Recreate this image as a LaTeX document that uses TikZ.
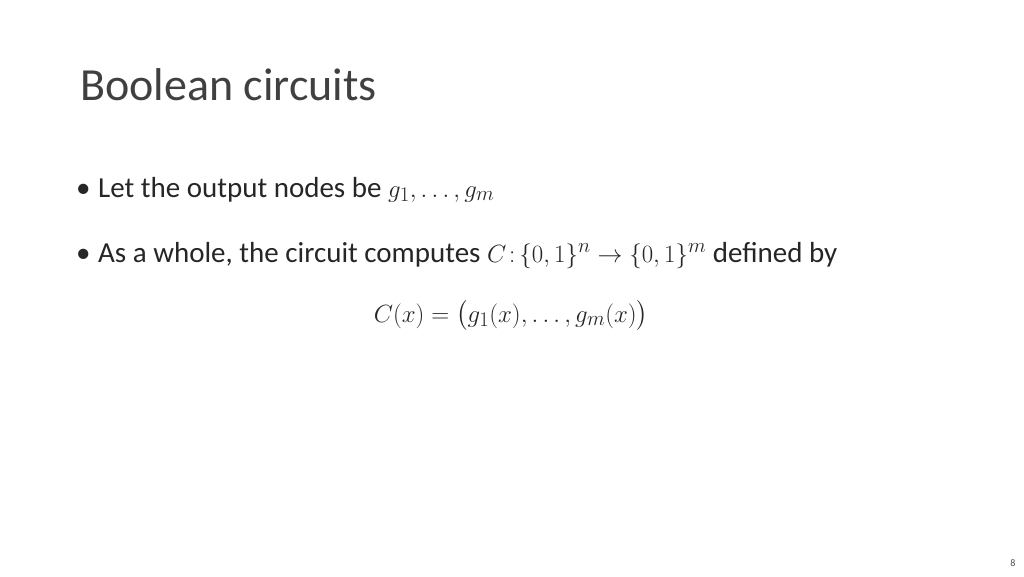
\documentclass[tikz,border=0pt]{standalone}
\usepackage{fontspec}
\usepackage{amsmath}
\setmainfont{Carlito}
\begin{document}
\begin{tikzpicture}[x=1pt,y=-1pt,
  body/.style={anchor=base west,inner sep=0,font=\fontsize{29}{34}\selectfont,text=black!85}]
\useasboundingbox[fill=white] (0,0) rectangle (1024,576);
\node[anchor=base west,inner sep=0,font=\fontsize{46}{52}\selectfont,text=black!75] (title) at (80,100) {Boolean circuits};
\node[body] (bu1) at (76,197) {\textbullet};
\node[body] (b1) at (98,197) {Let the output nodes be $g_1,\dots,g_m$};
\node[body] (bu2) at (76,262) {\textbullet};
\node[body] (b2) at (98,262) {As a whole, the circuit computes $C\colon\!\{0,1\}^n\to\{0,1\}^m$ defined by};
\node[body,anchor=base] (f) at (511,322) {$C(x)=\bigl(g_1(x),\dots,g_m(x)\bigr)$};
\node[anchor=base,inner sep=0,font=\fontsize{10}{12}\selectfont,text=black!70] (pg) at (1013,566) {8};
\end{tikzpicture}
\end{document}
